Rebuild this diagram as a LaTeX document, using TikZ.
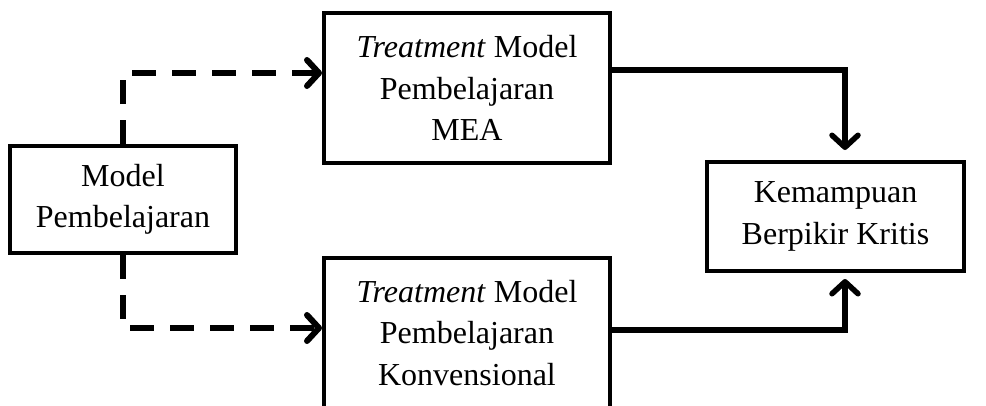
\documentclass[tikz,border=0pt]{standalone}
\usepackage{fontspec}
\setmainfont{Liberation Serif}
\usetikzlibrary{arrows.meta,calc}
\begin{document}
\begin{tikzpicture}[x=1pt,y=-1pt,
  box/.style={draw, line width=4pt, align=center, inner sep=0pt, font=\fontsize{32}{41.5}\selectfont},
  dashconn/.style={line width=6pt, dash pattern=on 24pt off 16pt, -{Straight Barb[length=12pt,width=26pt,line cap=round,line join=round]}},
  solidconn/.style={line width=5.5pt, -{Straight Barb[length=12pt,width=26pt,line cap=round,line join=round]}}]
\useasboundingbox (0,0) rectangle (986,405);
\node[box, minimum width=226pt, minimum height=107pt] (mp) at (123,199.5) {Model\\Pembelajaran};
\node[box, minimum width=286pt, minimum height=150pt] (mea) at (467,88) {\textit{Treatment} Model\\Pembelajaran\\MEA};
\node[box, minimum width=286pt, minimum height=150pt] (konv) at (467,333) {\textit{Treatment} Model\\Pembelajaran\\Konvensional};
\node[box, minimum width=257pt, minimum height=109pt] (kbk) at (835.5,216.5) {Kemampuan\\Berpikir Kritis};
\draw[dashconn] (mp.north) |- ($(mea.west)+(0,-15)$);
\draw[dashconn] (mp.south) |- ($(konv.west)+(0,-5)$);
\draw[solidconn] ($(mea.east)+(0,-18)$) -| ($(kbk.north)+(9.5,-10)$);
\draw[solidconn] ($(konv.east)+(0,-3)$) -| ($(kbk.south)+(9.5,6)$);
\end{tikzpicture}
\end{document}
